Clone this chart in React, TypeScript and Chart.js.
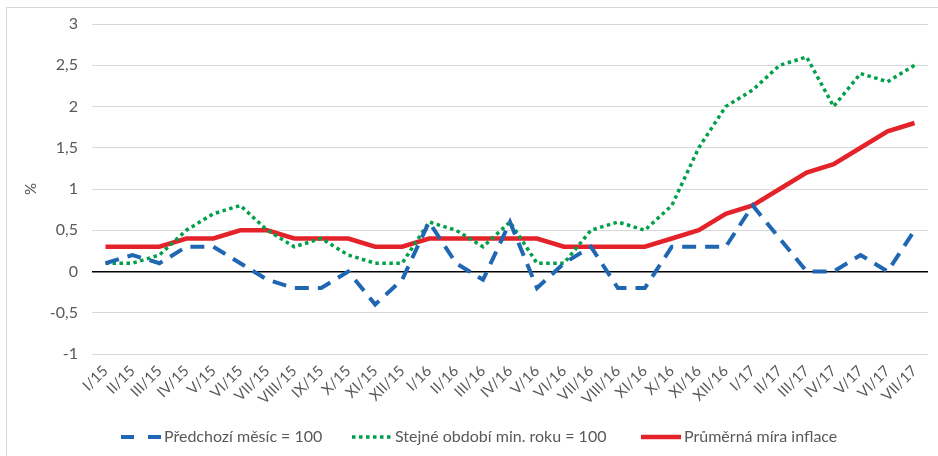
import React, { useEffect, useRef } from "react";
import { Chart, registerables } from "chart.js";

Chart.register(...registerables);

const categories = [
  "I/15", "II/15", "III/15", "IV/15", "V/15", "VI/15", "VII/15", "VIII/15", "IX/15", "X/15", "XI/15", "XII/15",
  "I/16", "II/16", "III/16", "IV/16", "V/16", "VI/16", "VII/16", "VIII/16", "XI/16", "X/16", "XI/16", "XII/16",
  "I/17", "II/17", "III/17", "IV/17", "V/17", "VI/17", "VII/17",
];

const predchoziMesic = [
  0.1, 0.2, 0.1, 0.3, 0.3, 0.1, -0.1, -0.2, -0.2, 0, -0.4, -0.1,
  0.6, 0.1, -0.1, 0.6, -0.2, 0.1, 0.3, -0.2, -0.2, 0.3, 0.3, 0.3,
  0.8, 0.4, 0, 0, 0.2, 0, 0.5,
];

const stejneObdobi = [
  0.1, 0.1, 0.2, 0.5, 0.7, 0.8, 0.5, 0.3, 0.4, 0.2, 0.1, 0.1,
  0.6, 0.5, 0.3, 0.6, 0.1, 0.1, 0.5, 0.6, 0.5, 0.8, 1.5, 2.0,
  2.2, 2.5, 2.6, 2.0, 2.4, 2.3, 2.5,
];

const prumernaMira = [
  0.3, 0.3, 0.3, 0.4, 0.4, 0.5, 0.5, 0.4, 0.4, 0.4, 0.3, 0.3,
  0.4, 0.4, 0.4, 0.4, 0.4, 0.3, 0.3, 0.3, 0.3, 0.4, 0.5, 0.7,
  0.8, 1.0, 1.2, 1.3, 1.5, 1.7, 1.8,
];

const seriesNames = ["Předchozí měsíc = 100", "Stejné období min. roku = 100", "Průměrná míra inflace"];

const FONT = "Lato, 'Open Sans', sans-serif";
const TEXT = "#595959";

const legendStarts = [121, 352, 641];
const legendDashes = [[13, 14], [3.5, 3.5], []];

const customLegend = {
  id: "customLegend",
  afterDraw(chart: any) {
    const ctx = chart.ctx;
    const y = 437;
    chart.data.datasets.forEach((ds: any, i: number) => {
      const x0 = legendStarts[i];
      ctx.save();
      ctx.strokeStyle = ds.borderColor;
      ctx.lineWidth = ds.borderWidth;
      ctx.lineCap = "butt";
      ctx.setLineDash(legendDashes[i]);
      ctx.beginPath();
      ctx.moveTo(x0, y);
      ctx.lineTo(x0 + 40, y);
      ctx.stroke();
      ctx.setLineDash([]);
      ctx.fillStyle = TEXT;
      ctx.font = `16px ${FONT}`;
      ctx.textBaseline = "middle";
      ctx.textAlign = "left";
      ctx.fillText(ds.label, x0 + 43, y);
      ctx.restore();
    });
  },
};

export default function App() {
  const ref = useRef<HTMLCanvasElement | null>(null);

  useEffect(() => {
    if (!ref.current) return;
    const chart = new Chart(ref.current, {
      type: "line",
      data: {
        labels: categories,
        datasets: [
          {
            label: seriesNames[0],
            data: predchoziMesic,
            borderColor: "#1F67B3",
            borderWidth: 4,
            borderDash: [14, 9],
            pointRadius: 0,
            tension: 0,
            fill: false,
          },
          {
            label: seriesNames[1],
            data: stejneObdobi,
            borderColor: "#00A04A",
            borderWidth: 3.5,
            borderDash: [3.5, 3.5],
            pointRadius: 0,
            tension: 0,
            fill: false,
          },
          {
            label: seriesNames[2],
            data: prumernaMira,
            borderColor: "#E3222A",
            borderWidth: 4.5,
            pointRadius: 0,
            tension: 0,
            fill: false,
          },
        ],
      },
      options: {
        animation: false,
        responsive: true,
        maintainAspectRatio: false,
        layout: { padding: { left: 8, right: 10, top: 24, bottom: 40 } },
        plugins: {
          legend: { display: false },
          tooltip: { enabled: false },
        },
        scales: {
          x: {
            offset: true,
            grid: { display: false, drawTicks: false },
            border: { display: false },
            ticks: {
              autoSkip: false,
              maxRotation: 45,
              minRotation: 45,
              padding: 8,
              color: TEXT,
              font: { family: FONT, size: 15 },
            },
            afterFit: (scale: any) => {
              scale.height = 62;
            },
          },
          y: {
            min: -1,
            max: 3,
            grid: {
              drawTicks: false,
              color: (c: any) => (c.tick && c.tick.value === 0 ? "#000000" : "#D9D9D9"),
              lineWidth: (c: any) => (c.tick && c.tick.value === 0 ? 1.6 : 1),
            },
            border: { display: false },
            ticks: {
              stepSize: 0.5,
              padding: 14,
              color: TEXT,
              font: { family: FONT, size: 16 },
              callback: (v: any) => String(v).replace(".", ","),
            },
            title: {
              display: true,
              text: "%",
              color: TEXT,
              font: { family: FONT, size: 15 },
              padding: { top: 14, bottom: 0 },
            },
            afterFit: (scale: any) => {
              scale.width = 84;
            },
          },
        },
      },
      plugins: [customLegend],
    });
    return () => chart.destroy();
  }, []);

  return (
    <div style={{ position: "fixed", left: 0, top: 0, width: 938, height: 456, overflow: "hidden", background: "#fff" }}>
      <div
        style={{
          position: "absolute",
          left: 6,
          top: 7,
          width: 960,
          height: 480,
          borderTop: "1px solid #D9D9D9",
          borderLeft: "1px solid #D9D9D9",
        }}
      />
      <canvas ref={ref} style={{ position: "absolute", left: 0, top: 0 }} />
    </div>
  );
}
